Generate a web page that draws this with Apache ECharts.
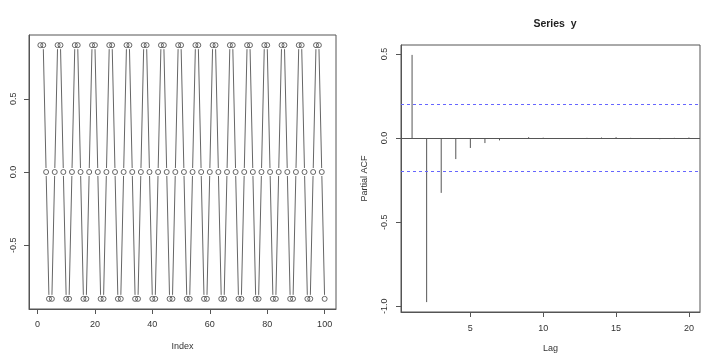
<!DOCTYPE html>
<html>
<head>
<meta charset="utf-8">
<script src="https://cdn.jsdelivr.net/npm/echarts@6/dist/echarts.min.js"></script>
<style>html,body{margin:0;padding:0;background:#fff}#c{width:722px;height:362px}</style>
</head>
<body>
<div id="c"></div>
<script>
// ---- data ----
var seriesY = [
 0.866, 0.866, 0, -0.866, -0.866, 0,
 0.866, 0.866, 0, -0.866, -0.866, 0,
 0.866, 0.866, 0, -0.866, -0.866, 0,
 0.866, 0.866, 0, -0.866, -0.866, 0,
 0.866, 0.866, 0, -0.866, -0.866, 0,
 0.866, 0.866, 0, -0.866, -0.866, 0,
 0.866, 0.866, 0, -0.866, -0.866, 0,
 0.866, 0.866, 0, -0.866, -0.866, 0,
 0.866, 0.866, 0, -0.866, -0.866, 0,
 0.866, 0.866, 0, -0.866, -0.866, 0,
 0.866, 0.866, 0, -0.866, -0.866, 0,
 0.866, 0.866, 0, -0.866, -0.866, 0,
 0.866, 0.866, 0, -0.866, -0.866, 0,
 0.866, 0.866, 0, -0.866, -0.866, 0,
 0.866, 0.866, 0, -0.866, -0.866, 0,
 0.866, 0.866, 0, -0.866, -0.866, 0,
 0.866, 0.866, 0, -0.866
];
var lags = [1,2,3,4,5,6,7,8,9,10,11,12,13,14,15,16,17,18,19,20];
var pacfValues = [0.494, -0.975, -0.326, -0.125, -0.059, -0.030, -0.014, -0.005, 0.005, 0.002,
                  -0.004, -0.005, 0.001, 0.003, 0.005, 0.001, -0.004, -0.007, 0.001, 0.003];
var confLimit = 0.196;
var indexTicks = [0, 20, 40, 60, 80, 100];
var yTicksLeft = [-0.5, 0, 0.5];
var lagTicks = [5, 10, 15, 20];
var yTicksRight = [-1, -0.5, 0, 0.5];
var titleRight = 'Series  y';

// ---- build ----
var pts = seriesY.map(function (v, i) { return [i + 1, v]; });
var segs = [];
for (var i = 0; i < pts.length - 1; i++) segs.push([pts[i][0], pts[i][1], pts[i+1][0], pts[i+1][1]]);
var pacfData = lags.map(function (l, i) { return [l, pacfValues[i]]; });

var FONT = 'Liberation Sans, Arial, sans-serif';
var TXT = '#333';
var AX = '#555';

function fmt1(v) { return (Math.abs(v) < 1e-9 ? 0 : v).toFixed(1); }

var chart = echarts.init(document.getElementById('c'), null, {renderer: 'canvas'});
var GAP = 4;
var axLine = {show: true, onZero: false, lineStyle: {color: AX, width: 1}};
var tick = function (vals) { return {show: true, inside: false, length: 5, lineStyle: {color: AX, width: 1}, customValues: vals}; };
chart.setOption({
  animation: false,
  backgroundColor: '#fff',
  title: {
    text: titleRight, left: 550, top: 14, textAlign: 'center',
    textStyle: {fontFamily: FONT, fontSize: 10.5, fontWeight: 'bold', color: '#222'}
  },
  grid: [
    {left: 29, top: 35, width: 307, height: 274, show: true, borderColor: AX, borderWidth: 1, backgroundColor: 'transparent'},
    {left: 401, top: 45, width: 299, height: 267, show: true, borderColor: AX, borderWidth: 1, backgroundColor: 'transparent'}
  ],
  xAxis: [
    {type: 'value', gridIndex: 0, min: -2.96, max: 103.96, position: 'bottom',
     name: 'Index', nameLocation: 'middle', nameGap: 33,
     nameTextStyle: {fontFamily: FONT, fontSize: 9, color: TXT},
     axisLine: axLine, splitLine: {show: false}, axisTick: tick(indexTicks),
     axisLabel: {show: true, margin: 11, fontFamily: FONT, fontSize: 9, color: TXT, customValues: indexTicks,
                 formatter: function (v) { return String(v); }}},
    {type: 'value', gridIndex: 1, min: 0.24, max: 20.76, position: 'bottom',
     name: 'Lag', nameLocation: 'middle', nameGap: 32,
     nameTextStyle: {fontFamily: FONT, fontSize: 9, color: TXT},
     axisLine: axLine, splitLine: {show: false}, axisTick: tick(lagTicks),
     axisLabel: {show: true, margin: 12, fontFamily: FONT, fontSize: 9, color: TXT, customValues: lagTicks,
                 formatter: function (v) { return String(v); }}}
  ],
  yAxis: [
    {type: 'value', gridIndex: 0, min: -0.9353, max: 0.9353, position: 'left',
     axisLine: axLine, splitLine: {show: false}, axisTick: tick(yTicksLeft),
     axisLabel: {show: true, rotate: 90, margin: 11, fontFamily: FONT, fontSize: 9, color: TXT, customValues: yTicksLeft,
                 formatter: fmt1}},
    {type: 'value', gridIndex: 1, min: -1.0338, max: 0.5528, position: 'left',
     name: 'Partial ACF', nameLocation: 'middle', nameGap: 32, nameRotate: 90,
     nameTextStyle: {fontFamily: FONT, fontSize: 9, color: TXT},
     axisLine: axLine, splitLine: {show: false}, axisTick: tick(yTicksRight),
     axisLabel: {show: true, rotate: 90, margin: 12, fontFamily: FONT, fontSize: 9, color: TXT, customValues: yTicksRight,
                 formatter: fmt1}}
  ],
  series: [
    {
      type: 'custom', xAxisIndex: 0, yAxisIndex: 0, data: segs, silent: true,
      renderItem: function (params, api) {
        var a = api.coord([api.value(0), api.value(1)]);
        var b = api.coord([api.value(2), api.value(3)]);
        var dx = b[0] - a[0], dy = b[1] - a[1];
        var len = Math.sqrt(dx * dx + dy * dy);
        if (len <= 2 * GAP + 0.5) return null;
        var ux = dx / len, uy = dy / len;
        return {type: 'line', shape: {x1: a[0] + ux * GAP, y1: a[1] + uy * GAP, x2: b[0] - ux * GAP, y2: b[1] - uy * GAP},
                style: {stroke: '#666', lineWidth: 1}};
      }
    },
    {
      type: 'scatter', xAxisIndex: 0, yAxisIndex: 0, data: pts, silent: true,
      symbol: 'circle', symbolSize: 5,
      itemStyle: {color: 'rgba(0,0,0,0)', borderColor: '#444', borderWidth: 1}
    },
    {
      type: 'custom', xAxisIndex: 1, yAxisIndex: 1, data: pacfData, silent: true,
      renderItem: function (params, api) {
        var a = api.coord([api.value(0), 0]);
        var b = api.coord([api.value(0), api.value(1)]);
        return {type: 'line', shape: {x1: a[0], y1: a[1], x2: b[0], y2: b[1]},
                style: {stroke: '#555', lineWidth: 1}};
      },
      markLine: {
        silent: true, symbol: ['none', 'none'], label: {show: false},
        lineStyle: {color: '#6666ff', type: [3, 3], width: 1},
        emphasis: {disabled: true},
        data: [
          {yAxis: confLimit},
          {yAxis: -confLimit},
          {yAxis: 0, lineStyle: {color: '#555', type: 'solid', width: 1}}
        ]
      }
    }
  ]
});
</script>
</body>
</html>
